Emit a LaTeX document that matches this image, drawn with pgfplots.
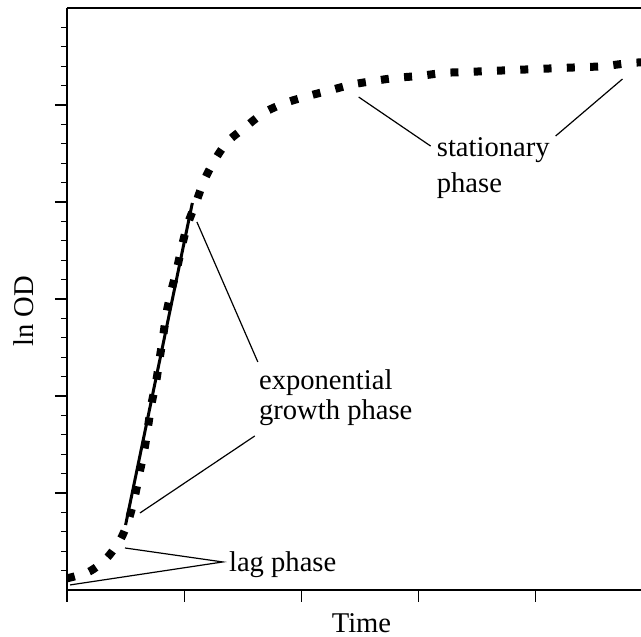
\documentclass[border=0pt]{standalone}
\usepackage{fontspec}
\setmainfont{Liberation Serif}
\usepackage{pgfplots}
\pgfplotsset{compat=1.18}
\begin{document}
\fontsize{28.6pt}{34pt}\selectfont
\begin{tikzpicture}[font=\fontsize{28.6pt}{34pt}\selectfont]
\useasboundingbox (-67pt,-47pt) rectangle (574pt,590pt);
\begin{axis}[
  at={(0,0)}, anchor=south west,
  scale only axis, width=574pt, height=582pt,
  xmin=0, xmax=4.9, ymin=0, ymax=6,
  axis lines=left,
  axis line style={-, line width=1.4pt, black},
  xtick={0,1,2,3,4}, ytick={1,2,3,4,5},
  minor ytick={0.2,0.4,0.6,0.8,1.2,1.4,1.6,1.8,2.2,2.4,2.6,2.8,3.2,3.4,3.6,3.8,4.2,4.4,4.6,4.8,5.2,5.4,5.6,5.8},
  xticklabels={}, yticklabels={},
  tick align=outside,
  major tick length=12pt, minor tick length=6pt,
  every tick/.style={line width=1.2pt, black},
  clip=false,
  xlabel={Time}, ylabel={ln OD},
  every axis x label/.style={at={(rel axis cs:0.513,-0.0722)}, anchor=base},
  every axis y label/.style={at={(rel axis cs:-0.0592,0.479)}, rotate=90, anchor=base},
]
% growth curve, drawn as a square-dotted line
\addplot[black, line width=8pt, line cap=butt, dash pattern=on 8pt off 15.3pt, smooth]
coordinates {
 (0.00,0.12) (0.19,0.19) (0.34,0.33) (0.46,0.53) (0.53,0.74) (0.58,0.97)
 (0.62,1.21) (0.66,1.44) (0.69,1.67) (0.72,1.91) (0.76,2.14) (0.79,2.38)
 (0.82,2.61) (0.85,2.86) (0.89,3.08) (0.94,3.32) (0.98,3.54) (1.03,3.77)
 (1.10,3.99) (1.17,4.22) (1.26,4.43) (1.37,4.62) (1.52,4.77) (1.68,4.92)
 (1.86,5.02) (2.05,5.09) (2.24,5.15) (2.43,5.21) (2.63,5.25) (2.81,5.28)
 (3.01,5.30) (3.21,5.33) (3.40,5.34) (3.60,5.35) (3.80,5.36) (3.99,5.37)
 (4.19,5.38) (4.39,5.39) (4.58,5.40) (4.78,5.43) (4.90,5.44)
};
% straight fit through the exponential phase
\addplot[black, line width=3pt] coordinates {(0.50,0.67) (1.07,3.99)};

% leader lines
\draw[line width=1.2pt] (axis cs:2.490,5.082) -- (axis cs:3.104,4.577);
\draw[line width=1.2pt] (axis cs:4.742,5.268) -- (axis cs:4.171,4.680);
\draw[line width=1.2pt] (axis cs:1.109,3.794) -- (axis cs:1.629,2.351);
\draw[line width=1.2pt] (axis cs:1.603,1.588) -- (axis cs:0.623,0.794);
\draw[line width=1.2pt] (axis cs:0.495,0.433) -- (axis cs:1.330,0.289) -- (axis cs:0.026,0.052);

% phase labels
\node[anchor=base west, inner sep=0pt] at (axis cs:3.156,4.464) {stationary};
\node[anchor=base west, inner sep=0pt] at (axis cs:3.156,4.103) {phase};
\node[anchor=base west, inner sep=0pt] at (axis cs:1.638,2.062) {exponential};
\node[anchor=base west, inner sep=0pt] at (axis cs:1.638,1.753) {growth phase};
\node[anchor=base west, inner sep=0pt] at (axis cs:1.382,0.186) {lag phase};

% top frame line
\draw[line width=1.4pt] (rel axis cs:0,1) -- (rel axis cs:1,1);
\end{axis}
\end{tikzpicture}
\end{document}
